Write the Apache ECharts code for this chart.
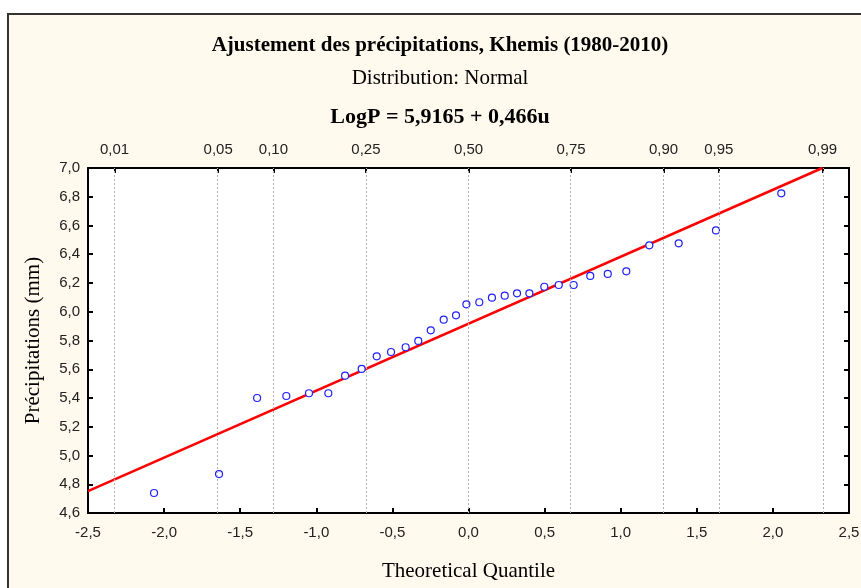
<!DOCTYPE html>
<html><head><meta charset="utf-8">
<script src="https://cdn.jsdelivr.net/npm/echarts@6/dist/echarts.min.js"></script>
<style>html,body{margin:0;padding:0;background:#fff}#c{width:861px;height:588px}</style>
</head><body><div id="c"></div>
<script>
// Observed points (theoretical quantile u, LogP)
var quantiles = [-2.066,-1.639,-1.389,-1.197,-1.048,-0.921,-0.811,-0.702,-0.603,-0.509,-0.413,-0.330,-0.248,-0.163,-0.082,-0.014,0.071,0.154,0.238,0.319,0.400,0.498,0.593,0.691,0.800,0.915,1.037,1.188,1.381,1.626,2.055];
var logP = [4.739,4.871,5.400,5.414,5.433,5.433,5.555,5.602,5.690,5.720,5.753,5.797,5.871,5.945,5.975,6.052,6.066,6.098,6.112,6.128,6.128,6.174,6.186,6.186,6.249,6.263,6.281,6.462,6.476,6.566,6.824];
// Fitted line endpoints (LogP = 5,9165 + 0,466u)
var fitX = [-2.5, 2.325];
var fitY = [4.7515, 7.0];
// Top probability axis
var probQuantiles = [-2.326,-1.645,-1.2816,-0.674,0,0.674,1.2816,1.645,2.326];
var probLabels = ['0,01','0,05','0,10','0,25','0,50','0,75','0,90','0,95','0,99'];

var scatterData = quantiles.map(function(u,i){return [u, logP[i]];});
var fitData = fitX.map(function(u,i){return [u, fitY[i]];});
function comma(v, d){ return v.toFixed(d).replace('.', ','); }

var chart = echarts.init(document.getElementById('c'), null, {renderer:'canvas'});
var lblFont = {fontFamily:'Liberation Sans', fontSize:15, color:'#222'};
chart.setOption({
  backgroundColor:'#fff',
  animation:false,
  graphic:[
    {type:'rect', z:-10, shape:{x:8, y:14, width:870, height:590}, style:{fill:'#fff9ee', stroke:'#333', lineWidth:2}},
    {type:'text', x:440, y:46, style:{text:'Ajustement des précipitations, Khemis (1980-2010)', font:'bold 21px "Liberation Serif"', fill:'#000', align:'center', verticalAlign:'middle'}},
    {type:'text', x:440, y:78, style:{text:'Distribution: Normal', font:'21px "Liberation Serif"', fill:'#000', align:'center', verticalAlign:'middle'}},
    {type:'text', x:440, y:117, style:{text:'LogP = 5,9165 + 0,466u', font:'bold 22px "Liberation Serif"', fill:'#000', align:'center', verticalAlign:'middle'}}
  ],
  grid:{left:88, right:12, top:168, bottom:75, show:true, backgroundColor:'#fff', borderWidth:0, outerBoundsMode:'none', containLabel:false},
  xAxis:[
    {type:'value', position:'bottom', min:-2.5, max:2.5, interval:0.5,
     name:'Theoretical Quantile', nameLocation:'middle', nameGap:48,
     nameTextStyle:{fontFamily:'Liberation Serif', fontSize:21, color:'#000'},
     axisLine:{show:true, onZero:false, lineStyle:{color:'#000', width:2}},
     axisTick:{show:true, inside:true, length:5, lineStyle:{color:'#000', width:2}},
     axisLabel:Object.assign({margin:12, formatter:function(v){return comma(v,1);}}, lblFont),
     splitLine:{show:false}},
    {type:'value', position:'top', min:-2.5, max:2.5,
     axisLine:{show:true, onZero:false, lineStyle:{color:'#000', width:2}},
     axisTick:{show:true, inside:true, length:5, customValues:probQuantiles, lineStyle:{color:'#000', width:2}},
     axisLabel:Object.assign({margin:11, customValues:probQuantiles, formatter:function(v){
        var i = probQuantiles.indexOf(v); return i>=0 ? probLabels[i] : '';}}, lblFont),
     splitLine:{show:false}}
  ],
  yAxis:[
    {type:'value', position:'left', min:4.6, max:7.0, interval:0.2,
     name:'Précipitations (mm)', nameLocation:'middle', nameGap:44, nameRotate:90,
     nameTextStyle:{fontFamily:'Liberation Serif', fontSize:21, color:'#000'},
     axisLine:{show:true, onZero:false, lineStyle:{color:'#000', width:2}},
     axisTick:{show:true, inside:true, length:5, lineStyle:{color:'#000', width:2}},
     axisLabel:Object.assign({margin:8, formatter:function(v){return comma(v,1);}}, lblFont),
     splitLine:{show:false}},
    {type:'value', position:'right', min:4.6, max:7.0, interval:0.2,
     axisLine:{show:true, onZero:false, lineStyle:{color:'#000', width:2}},
     axisTick:{show:true, inside:true, length:5, lineStyle:{color:'#000', width:2}},
     axisLabel:{show:false}, splitLine:{show:false}}
  ],
  series:[
    {type:'line', data:[], xAxisIndex:0, yAxisIndex:0, silent:true,
     markLine:{silent:true, symbol:'none', label:{show:false},
       lineStyle:{color:'#b0b0b0', type:[2,2], width:1},
       data:probQuantiles.map(function(q){return {xAxis:q};})}},
    {type:'line', data:fitData, xAxisIndex:0, yAxisIndex:0, showSymbol:false, symbol:'none',
     lineStyle:{color:'#ff0000', width:2.5}, z:3},
    {type:'scatter', data:scatterData, xAxisIndex:0, yAxisIndex:0, symbol:'circle', symbolSize:7,
     itemStyle:{color:'#ffffff', borderColor:'#2020ff', borderWidth:1.2, opacity:1}, z:4}
  ]
});
</script></body></html>
